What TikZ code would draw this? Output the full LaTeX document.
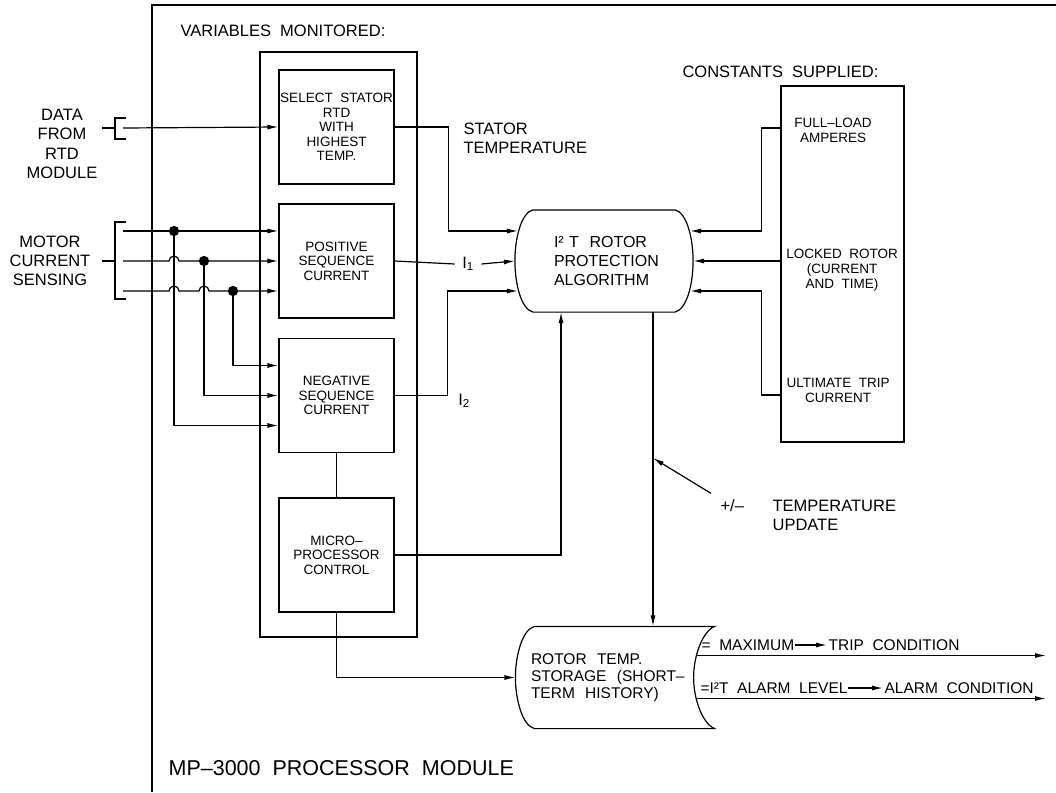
\documentclass[tikz,border=0pt]{standalone}
\usepackage{fontspec}
\setmainfont{Liberation Sans}
\usetikzlibrary{calc,arrows.meta}

\tikzset{
  arr/.style={-{Latex[length=11pt,width=5pt]}},
  blk/.style={draw,minimum width=115,minimum height=114,align=center,inner sep=0,font=\fontsize{13.5}{14.5}\selectfont},
  lbl/.style={inner sep=0,font=\fontsize{16.5}{19.3}\selectfont},
  small/.style={inner sep=0,align=center,font=\fontsize{13.5}{15}\selectfont},
  mid/.style={inner sep=0,font=\fontsize{15.5}{17}\selectfont},
}

\begin{document}
\begin{tikzpicture}[x=1pt,y=-1pt,line width=1.2pt]
\useasboundingbox (0,0) rectangle (1056,792);
\draw (152,792) -- (152,5) -- (1056,5);

\node[lbl,anchor=west] (varlbl) at (180,31) {VARIABLES\ \ MONITORED:};
\node[draw,minimum width=157,minimum height=585] (var) at (338.5,344.5) {};
\node[blk] (sel) at (336.5,127) {SELECT\ \ STATOR\\RTD\\WITH\\HIGHEST\\TEMP.};
\node[blk] (pos) at (336.5,261) {POSITIVE\\SEQUENCE\\CURRENT};
\node[blk] (neg) at (336.5,395.5) {NEGATIVE\\SEQUENCE\\CURRENT};
\node[blk] (mic) at (336.5,555) {MICRO–\\PROCESSOR\\CONTROL};

\node[lbl,anchor=east] (cstlbl) at (879,72) {CONSTANTS\ \ SUPPLIED:};
\node[draw,minimum width=123,minimum height=356] (cst) at (842.5,264) {};
\node[small] (fla) at (833,130) {FULL–LOAD\\AMPERES};
\node[small] (lrt) at (842,270) {LOCKED\ \ ROTOR\\(CURRENT\\AND\ \ TIME)};
\node[small] (utc) at (838,390) {ULTIMATE\ \ TRIP\\CURRENT};

\node[inner sep=0,minimum width=177,minimum height=101,text width=100,align=left,font=\fontsize{16}{19}\selectfont] (alg) at (604,261) {I² T\ \ ROTOR\\PROTECTION\\ALGORITHM};
\draw ($(alg.north west)+(18,0)$) -- ($(alg.north east)+(-18,0)$)
  .. controls +(12,3) and +(0,-22) .. (alg.east)
  .. controls +(0,22) and +(12,-3) .. ($(alg.south east)+(-18,0)$)
  -- ($(alg.south west)+(18,0)$)
  .. controls +(-12,-3) and +(0,22) .. (alg.west)
  .. controls +(0,-22) and +(-12,3) .. ($(alg.north west)+(18,0)$);

\node[inner sep=0,minimum width=198,minimum height=101,text width=168,align=left,font=\fontsize{15.5}{17}\selectfont] (sto) at (615,677.5) {ROTOR\ \ TEMP.\\STORAGE\ \ (SHORT–\\TERM\ \ HISTORY)};
\draw ($(sto.north west)+(19,0)$) -- (sto.north east)
  .. controls +(-12,5) and +(0,-22) .. ($(sto.east)+(-21,0)$)
  .. controls +(0,22) and +(-12,-5) .. (sto.south east)
  -- ($(sto.south west)+(19,0)$)
  .. controls +(-12,-3) and +(0,22) .. (sto.west)
  .. controls +(0,-22) and +(-12,3) .. ($(sto.north west)+(19,0)$);

\node[lbl,align=center] (rtd) at (62,144) {DATA\\FROM\\RTD\\MODULE};
\node[lbl,align=center] (mcs) at (50,261) {MOTOR\\CURRENT\\SENSING};
\foreach \ym/\yt/\yb in {128/118/139,261/222/299} {
  \draw (102,\ym) -- (115,\ym);
  \draw (126,\yt) -- (115,\yt) -- (115,\yb) -- (126,\yb);
}

\node[lbl,anchor=west,align=left] (stt) at (463,138) {STATOR\\TEMPERATURE};
\node[lbl,inner xsep=7] (i1) at (468,264) {I\textsubscript{1}};
\node[lbl] (i2) at (464,401) {I\textsubscript{2}};
\node[lbl,anchor=west] (pm) at (720,506) {+/–};
\node[lbl,anchor=west,align=left] (upd) at (772,515.5) {TEMPERATURE\\UPDATE};
\node[mid,anchor=west] (mx) at (701,645) {=\ \ MAXIMUM};
\node[mid,anchor=west] (trp) at (828,645) {TRIP\ \ CONDITION};
\node[mid,anchor=west] (alv) at (700,688) {=I²T\ \ ALARM\ \ LEVEL};
\node[mid,anchor=west] (acn) at (884,688) {ALARM\ \ CONDITION};
\node[inner sep=0,anchor=west,font=\fontsize{21.5}{24}\selectfont] (mp) at (168,768) {MP–3000\ \ PROCESSOR\ \ MODULE};

\coordinate (rin) at (123,128);
\coordinate (m1) at (123,231);
\coordinate (m2) at (123,261);
\coordinate (m3) at (123,291);
\coordinate (d1) at (174,231);
\coordinate (d2) at (204,261);
\coordinate (d3) at (233,291);
\coordinate (p1) at ($(pos.west)+(0,-30)$);
\coordinate (p3) at ($(pos.west)+(0,30)$);
\coordinate (a1) at ($(alg.west)+(3,-30)$);
\coordinate (a3) at ($(alg.west)+(3,30)$);
\coordinate (b1) at ($(alg.east)+(-3,-30)$);
\coordinate (b3) at ($(alg.east)+(-3,30)$);
\coordinate (c1) at ($(cst.west)+(0,-136)$);
\coordinate (c3) at ($(cst.west)+(0,131)$);
\coordinate (ain) at ($(alg.south)+(-43,0)$);
\coordinate (aout) at ($(alg.south)+(49,0)$);
\coordinate (upt) at (653,458);
\coordinate (o1) at ($(sto.east)+(-18,-22)$);
\coordinate (o2) at ($(sto.east)+(-18,21)$);
\coordinate (e1) at (1046,655.5);
\coordinate (e2) at (1046,698.5);

\draw[arr] (rin) -- (sel.west);
\draw[arr] (m1) -- (p1);
\draw[arr] (m2) -- (169,261) arc (180:360:5) -- (pos.west);
\draw[arr] (m3) -- (169,291) arc (180:360:5) -- (199,291) arc (180:360:5) -- (p3);
\foreach \d in {d1,d2,d3} \filldraw (\d) circle (4.5);
\draw[arr] (d1) |- ($(neg.west)+(0,30)$);
\draw[arr] (d2) |- (neg.west);
\draw[arr] (d3) |- ($(neg.west)+(0,-30)$);

\draw[arr] (sel.east) -- ++(54,0) |- (a1);
\draw (pos.east) -- (i1.west);
\draw[arr] (i1.east) -- (alg.west);
\draw[arr] (neg.east) -- ++(53,0) |- (a3);
\draw (neg) -- (mic);
\draw[arr] (mic.east) -| (ain);
\draw[arr] (mic.south) |- (sto.west);

\draw[arr] (c1) -- ++(-19,0) |- (b1);
\draw[arr] (cst.west |- alg.east) -- (alg.east);
\draw[arr] (c3) -- ++(-19,0) |- (b3);

\draw[arr] (aout) -- (aout |- sto.north);
\draw[arr] ($(pm.north west)+(-9,-6)$) -- (upt);
\draw[arr] (o1) -- (e1);
\draw[arr] (o2) -- (e2);
\draw[arr,shorten >=1pt] (mx.east) -- (trp.west);
\draw[arr,shorten >=1pt] (alv.east) -- (acn.west);
\end{tikzpicture}
\end{document}
